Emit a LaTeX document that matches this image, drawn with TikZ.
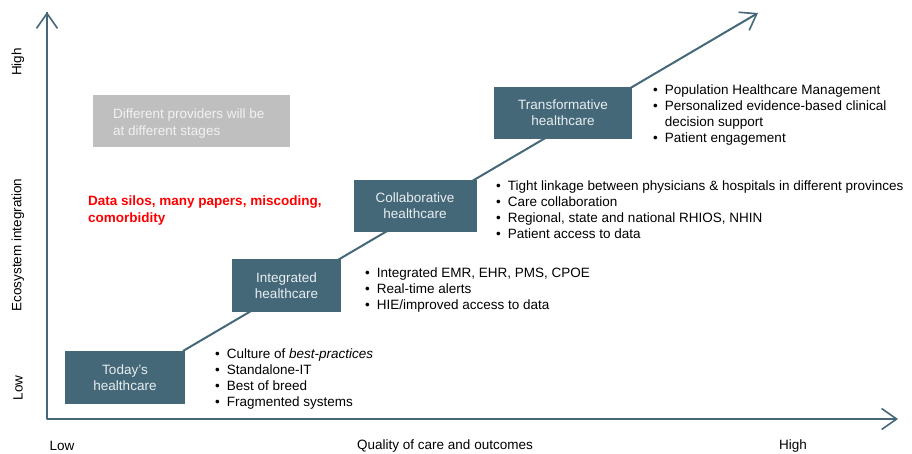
\documentclass[tikz,border=0pt]{standalone}
\usepackage{fontspec}
\setmainfont{Liberation Sans}
\usepackage{tikz}
\usetikzlibrary{arrows.meta}

\definecolor{slate}{HTML}{456879}
\definecolor{boxtext}{HTML}{E8EEF1}
\definecolor{greybox}{HTML}{BFBFBF}
\definecolor{greytext}{HTML}{F2F2F2}
\definecolor{silored}{HTML}{FF0000}

\newcommand{\bul}{\textbullet}

\begin{document}
\begin{tikzpicture}[x=1pt,y=-1pt,>={Straight Barb[length=15pt,width=21pt,line width=1.6pt]},
  every node/.style={font=\fontsize{13.5}{16.3}\selectfont},
  stage/.style={rectangle,fill=slate,text=boxtext,align=center,inner sep=0pt},
  list/.style={anchor=base west,inner sep=0pt},
  axis/.style={draw=slate,line width=2pt,line join=round}]

  \useasboundingbox (0,0) rectangle (912,453);

  % axes
  \coordinate (origin) at (47,419);
  \coordinate (ytip) at (47,12);
  \coordinate (xtip) at (898,419);
  \draw[axis,->] (ytip) -- (origin) -- (xtip);
  \draw[axis,<-] (ytip) -- ++(0,1);

  % stages
  \coordinate (s0) at (183,351);
  \coordinate (stip) at (758,13);
  \draw[axis,->] (s0) -- (stip);

  \node[stage,minimum width=120pt,minimum height=53pt] (today) at (125,377.5) {Today's\\healthcare};
  \node[stage,minimum width=109pt,minimum height=53pt] (integ) at (286.5,285.5) {Integrated\\healthcare};
  \node[stage,minimum width=123pt,minimum height=52pt] (collab) at (415,206) {Collaborative\\healthcare};
  \node[stage,minimum width=138pt,minimum height=52pt] (transf) at (563,113) {Transformative\\healthcare};

  % lists
  \node[list] (todaylist) at (215,358) {\begin{tabular}[t]{@{}l@{\hspace{7pt}}l@{}}
    \bul & Culture of \emph{best-practices}\\
    \bul & Standalone-IT\\
    \bul & Best of breed\\
    \bul & Fragmented systems
  \end{tabular}};
  \node[list] (integlist) at (365,277) {\begin{tabular}[t]{@{}l@{\hspace{7pt}}l@{}}
    \bul & Integrated EMR, EHR, PMS, CPOE\\
    \bul & Real-time alerts\\
    \bul & HIE/improved access to data
  \end{tabular}};
  \node[list] (collablist) at (496,190) {\begin{tabular}[t]{@{}l@{\hspace{7pt}}l@{}}
    \bul & Tight linkage between physicians \& hospitals in different provinces\\
    \bul & Care collaboration\\
    \bul & Regional, state and national RHIOS, NHIN\\
    \bul & Patient access to data
  \end{tabular}};
  \node[list] (transflist) at (653,94) {\begin{tabular}[t]{@{}l@{\hspace{7pt}}l@{}}
    \bul & Population Healthcare Management\\
    \bul & Personalized evidence-based clinical\\
        & decision support\\
    \bul & Patient engagement
  \end{tabular}};

  % notes
  \node[rectangle,fill=greybox,minimum width=197pt,minimum height=52pt] (providers) at (191.5,121) {};
  \node[list,text=greytext,align=left] (providerstext) at (113,135) {Different providers will be\\at different stages};
  \node[list,text=silored,align=left,font=\fontsize{13.5}{16.3}\selectfont\bfseries] (silos) at (88,222) {Data silos, many papers, miscoding,\\comorbidity};

  % axis labels
  \node (xlow) at (62,446) {Low};
  \node (xname) at (445,446) {Quality of care and outcomes};
  \node (xhigh) at (793,446) {High};
  \node[rotate=90] (ylow) at (18,388) {Low};
  \node[rotate=90] (yname) at (18,245) {Ecosystem integration};
  \node[rotate=90] (yhigh) at (18,62) {High};
\end{tikzpicture}
\end{document}
